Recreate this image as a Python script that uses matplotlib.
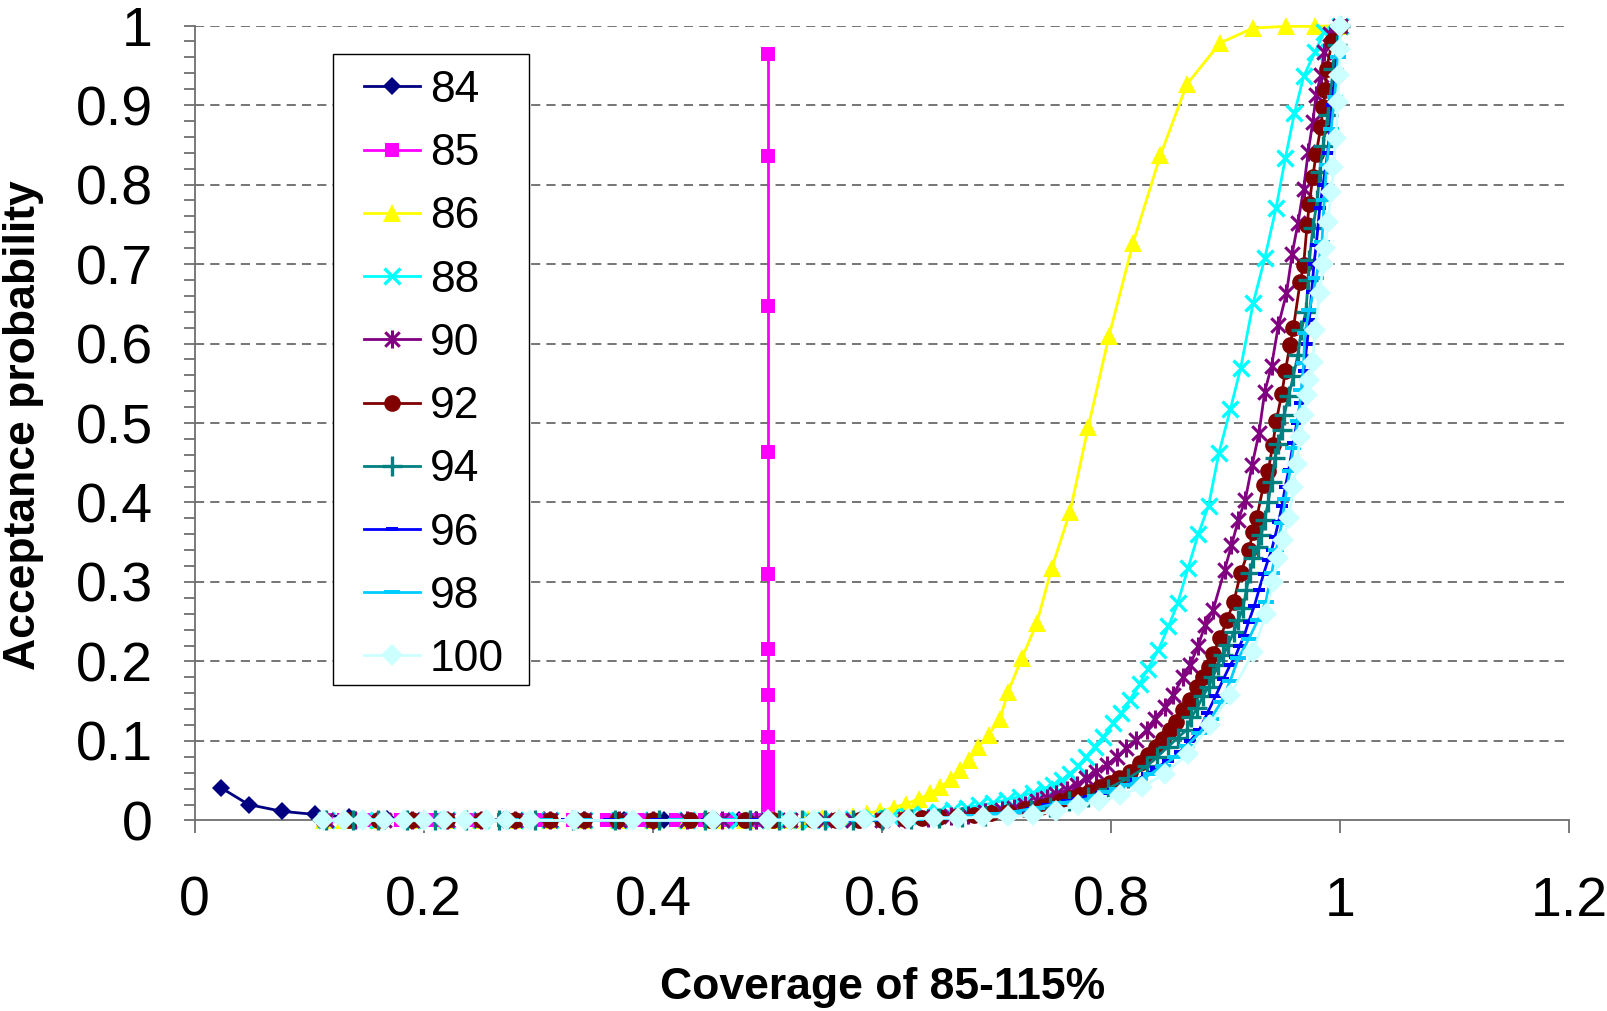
import matplotlib
matplotlib.use("Agg")
import matplotlib.pyplot as plt
from matplotlib.path import Path
from matplotlib.patches import Rectangle
from matplotlib.ticker import MultipleLocator, FuncFormatter

plt.rcParams['font.family'] = ['Liberation Sans', 'DejaVu Sans']

# ---------------- data (coverage, acceptance probability) ----------------
labels = ["84", "85", "86", "88", "90", "92", "94", "96", "98", "100"]

s84 = [(0.023, 0.041), (0.047, 0.020), (0.076, 0.0115), (0.105, 0.0075), (0.135, 0.004),
       (0.168, 0.002), (0.200, 0.0015), (0.235, 0.001), (0.270, 0.0005), (0.305, 0.0),
       (0.340, 0.0), (0.375, 0.0), (0.410, 0.0), (0.445, 0.0), (0.475, 0.0), (0.490, 0.0)]

s85 = [(0.5, 0.964), (0.5, 0.836), (0.5, 0.647), (0.5, 0.463), (0.5, 0.310), (0.5, 0.216),
       (0.5, 0.158), (0.5, 0.105), (0.5, 0.080), (0.5, 0.062), (0.5, 0.048), (0.5, 0.037),
       (0.5, 0.028), (0.5, 0.021), (0.5, 0.015), (0.5, 0.011), (0.5, 0.008), (0.5, 0.005),
       (0.5, 0.003), (0.5, 0.002), (0.5, 0.001), (0.5, 0.0), (0.497, 0.0), (0.49, 0.0),
       (0.48, 0.0), (0.465, 0.0), (0.445, 0.0), (0.42, 0.0), (0.39, 0.0), (0.36, 0.0),
       (0.33, 0.0), (0.30, 0.0), (0.27, 0.0), (0.24, 0.0), (0.21, 0.0), (0.18, 0.0),
       (0.15, 0.0), (0.13, 0.0), (0.115, 0.0)]

s86 = [(1.0, 1.0), (0.978, 0.999), (0.953, 0.999), (0.924, 0.997), (0.895, 0.978),
       (0.866, 0.926), (0.843, 0.837), (0.819, 0.726), (0.798, 0.609), (0.780, 0.495),
       (0.764, 0.388), (0.748, 0.317), (0.735, 0.248), (0.722, 0.204), (0.710, 0.162),
       (0.703, 0.128), (0.693, 0.108), (0.684, 0.092), (0.676, 0.076), (0.668, 0.063),
       (0.660, 0.052), (0.651, 0.042), (0.642, 0.034), (0.632, 0.027), (0.621, 0.021),
       (0.610, 0.016), (0.598, 0.012), (0.587, 0.009), (0.575, 0.006), (0.562, 0.004),
       (0.548, 0.003), (0.535, 0.002), (0.520, 0.001), (0.505, 0.0005), (0.480, 0.0),
       (0.455, 0.0), (0.430, 0.0), (0.400, 0.0), (0.370, 0.0), (0.340, 0.0), (0.310, 0.0),
       (0.280, 0.0), (0.250, 0.0), (0.220, 0.0), (0.190, 0.0), (0.160, 0.0), (0.130, 0.0),
       (0.113, 0.0)]

s88 = [(1.0, 1.0), (0.986, 0.992), (0.978, 0.967), (0.968, 0.936), (0.960, 0.890),
       (0.952, 0.833), (0.944, 0.771), (0.934, 0.707), (0.924, 0.651), (0.913, 0.569),
       (0.904, 0.517), (0.894, 0.462), (0.885, 0.396), (0.876, 0.360), (0.867, 0.317),
       (0.858, 0.273), (0.850, 0.244), (0.841, 0.214), (0.832, 0.191), (0.825, 0.172),
       (0.816, 0.151), (0.809, 0.135), (0.802, 0.122), (0.793, 0.105), (0.786, 0.093),
       (0.778, 0.080), (0.771, 0.068), (0.764, 0.059), (0.757, 0.051), (0.749, 0.045),
       (0.742, 0.040), (0.732, 0.035), (0.720, 0.030), (0.709, 0.026), (0.697, 0.022),
       (0.685, 0.019), (0.674, 0.016), (0.662, 0.013), (0.650, 0.010), (0.637, 0.008),
       (0.623, 0.006), (0.608, 0.004), (0.592, 0.003), (0.575, 0.002), (0.557, 0.001),
       (0.538, 0.0005), (0.518, 0.0), (0.490, 0.0), (0.475, 0.0), (0.460, 0.0),
       (0.430, 0.0), (0.400, 0.0), (0.370, 0.0), (0.340, 0.0), (0.310, 0.0), (0.280, 0.0),
       (0.250, 0.0), (0.220, 0.0), (0.190, 0.0), (0.160, 0.0), (0.135, 0.0), (0.115, 0.0)]

s90 = [(1.0, 1.0), (0.991, 0.99), (0.986, 0.967), (0.983, 0.938), (0.979, 0.913),
       (0.976, 0.879), (0.972, 0.841), (0.968, 0.795), (0.963, 0.751), (0.958, 0.713),
       (0.953, 0.663), (0.946, 0.623), (0.940, 0.572), (0.934, 0.539), (0.929, 0.487),
       (0.923, 0.447), (0.917, 0.403), (0.911, 0.378), (0.905, 0.346), (0.899, 0.315),
       (0.889, 0.265), (0.882, 0.246), (0.876, 0.220), (0.869, 0.196), (0.863, 0.181),
       (0.854, 0.158), (0.847, 0.143), (0.838, 0.128), (0.831, 0.114), (0.822, 0.101),
       (0.813, 0.091), (0.805, 0.080), (0.796, 0.070), (0.787, 0.061), (0.778, 0.053),
       (0.770, 0.045), (0.761, 0.038), (0.752, 0.033), (0.744, 0.028), (0.735, 0.024),
       (0.725, 0.020), (0.715, 0.016), (0.705, 0.013), (0.690, 0.010), (0.675, 0.007),
       (0.660, 0.005), (0.640, 0.003), (0.620, 0.002), (0.600, 0.001), (0.575, 0.0005),
       (0.550, 0.0), (0.520, 0.0), (0.490, 0.0), (0.460, 0.0), (0.430, 0.0), (0.400, 0.0),
       (0.370, 0.0), (0.340, 0.0), (0.310, 0.0), (0.280, 0.0), (0.250, 0.0), (0.220, 0.0),
       (0.190, 0.0), (0.165, 0.0), (0.140, 0.0), (0.115, 0.0)]

s92 = [(1.0, 1.0), (0.993, 0.98), (0.988, 0.946), (0.987, 0.919), (0.985, 0.898),
       (0.983, 0.873), (0.979, 0.839), (0.976, 0.810), (0.973, 0.776), (0.971, 0.749),
       (0.968, 0.699), (0.965, 0.678), (0.959, 0.619), (0.956, 0.598), (0.952, 0.565),
       (0.949, 0.537), (0.944, 0.502), (0.941, 0.472), (0.937, 0.439), (0.933, 0.422),
       (0.927, 0.380), (0.924, 0.363), (0.920, 0.340), (0.913, 0.311), (0.907, 0.275),
       (0.901, 0.252), (0.895, 0.229), (0.889, 0.210), (0.885, 0.193), (0.880, 0.181),
       (0.875, 0.168), (0.869, 0.151), (0.863, 0.139), (0.857, 0.124), (0.851, 0.114),
       (0.845, 0.103), (0.839, 0.093), (0.832, 0.082), (0.825, 0.072), (0.816, 0.061),
       (0.807, 0.053), (0.799, 0.047), (0.790, 0.042), (0.781, 0.036), (0.773, 0.032),
       (0.764, 0.028), (0.755, 0.024), (0.746, 0.019), (0.739, 0.017), (0.725, 0.014),
       (0.710, 0.011), (0.695, 0.009), (0.680, 0.007), (0.665, 0.005), (0.650, 0.004),
       (0.635, 0.003), (0.620, 0.002), (0.600, 0.001), (0.580, 0.0005), (0.560, 0.0),
       (0.540, 0.0), (0.520, 0.0), (0.505, 0.0), (0.480, 0.0), (0.450, 0.0), (0.432, 0.0),
       (0.400, 0.0), (0.369, 0.0), (0.340, 0.0), (0.310, 0.0), (0.280, 0.0), (0.250, 0.0),
       (0.220, 0.0), (0.190, 0.0), (0.160, 0.0), (0.135, 0.0), (0.112, 0.0)]

s94 = [(1.0, 1.0), (0.997, 0.975), (0.994, 0.946), (0.989, 0.888), (0.985, 0.848),
       (0.982, 0.816), (0.980, 0.781), (0.976, 0.745), (0.973, 0.705), (0.972, 0.680),
       (0.970, 0.640), (0.966, 0.617), (0.963, 0.586), (0.959, 0.559), (0.955, 0.534),
       (0.951, 0.510), (0.949, 0.491), (0.946, 0.474), (0.943, 0.456), (0.940, 0.426),
       (0.937, 0.400), (0.934, 0.378), (0.931, 0.359), (0.928, 0.344), (0.924, 0.330),
       (0.921, 0.311), (0.918, 0.290), (0.915, 0.267), (0.911, 0.252), (0.907, 0.237),
       (0.902, 0.221), (0.898, 0.208), (0.893, 0.196), (0.889, 0.181), (0.885, 0.168),
       (0.880, 0.156), (0.875, 0.141), (0.870, 0.130), (0.866, 0.114), (0.858, 0.104),
       (0.850, 0.093), (0.840, 0.080), (0.831, 0.068), (0.815, 0.053), (0.797, 0.040),
       (0.780, 0.030), (0.763, 0.024), (0.747, 0.017), (0.730, 0.013), (0.710, 0.009),
       (0.690, 0.006), (0.670, 0.004), (0.650, 0.003), (0.625, 0.002), (0.600, 0.001),
       (0.575, 0.0005), (0.550, 0.0), (0.530, 0.0), (0.510, 0.0), (0.485, 0.0),
       (0.445, 0.0), (0.405, 0.0), (0.367, 0.0), (0.330, 0.0), (0.297, 0.0), (0.266, 0.0),
       (0.237, 0.0), (0.210, 0.0), (0.185, 0.0), (0.160, 0.0), (0.138, 0.0), (0.115, 0.0)]

s96 = [(1.0, 1.0), (0.997, 0.96), (0.993, 0.90), (0.989, 0.84), (0.985, 0.80),
       (0.982, 0.770), (0.979, 0.724), (0.977, 0.700), (0.975, 0.665), (0.973, 0.630),
       (0.971, 0.600), (0.968, 0.565), (0.965, 0.525), (0.962, 0.500), (0.959, 0.475),
       (0.955, 0.441), (0.952, 0.420), (0.949, 0.395), (0.946, 0.375), (0.943, 0.357),
       (0.940, 0.340), (0.937, 0.328), (0.933, 0.310), (0.929, 0.290), (0.925, 0.270),
       (0.920, 0.250), (0.916, 0.232), (0.912, 0.219), (0.908, 0.205), (0.904, 0.196),
       (0.898, 0.178), (0.891, 0.156), (0.884, 0.135), (0.877, 0.114), (0.869, 0.100),
       (0.860, 0.086), (0.850, 0.075), (0.839, 0.066), (0.831, 0.058), (0.822, 0.051),
       (0.812, 0.044), (0.802, 0.038), (0.791, 0.034), (0.781, 0.030), (0.771, 0.027),
       (0.761, 0.024), (0.745, 0.019), (0.730, 0.014), (0.710, 0.010), (0.690, 0.007),
       (0.670, 0.005), (0.650, 0.003), (0.625, 0.002), (0.600, 0.001), (0.570, 0.0005),
       (0.540, 0.0), (0.515, 0.0), (0.490, 0.0), (0.447, 0.0), (0.403, 0.0), (0.362, 0.0),
       (0.325, 0.0), (0.290, 0.0), (0.260, 0.0), (0.232, 0.0), (0.205, 0.0), (0.180, 0.0),
       (0.157, 0.0), (0.135, 0.0), (0.114, 0.0)]

s98 = [(1.0, 1.0), (0.998, 0.96), (0.995, 0.91), (0.992, 0.87), (0.988, 0.825),
       (0.986, 0.780), (0.984, 0.728), (0.979, 0.682), (0.973, 0.642), (0.969, 0.613),
       (0.968, 0.575), (0.966, 0.542), (0.963, 0.502), (0.959, 0.468), (0.956, 0.439),
       (0.952, 0.405), (0.949, 0.374), (0.944, 0.340), (0.940, 0.311), (0.935, 0.275),
       (0.928, 0.252), (0.920, 0.228), (0.911, 0.204), (0.904, 0.176), (0.896, 0.149),
       (0.887, 0.128), (0.877, 0.110), (0.866, 0.094), (0.856, 0.080), (0.845, 0.069),
       (0.835, 0.059), (0.825, 0.052), (0.815, 0.045), (0.805, 0.040), (0.795, 0.036),
       (0.786, 0.031), (0.776, 0.026), (0.755, 0.022), (0.735, 0.016), (0.715, 0.011),
       (0.695, 0.008), (0.675, 0.005), (0.655, 0.003), (0.630, 0.002), (0.605, 0.001),
       (0.580, 0.0005), (0.555, 0.0), (0.530, 0.0), (0.510, 0.0), (0.465, 0.0),
       (0.420, 0.0), (0.378, 0.0), (0.340, 0.0), (0.306, 0.0), (0.276, 0.0), (0.248, 0.0),
       (0.222, 0.0), (0.198, 0.0), (0.175, 0.0), (0.153, 0.0), (0.133, 0.0), (0.113, 0.0)]

s100 = [(1.0, 1.0), (1.0, 0.97), (0.999, 0.938), (0.998, 0.904), (0.996, 0.858),
        (0.994, 0.822), (0.992, 0.790), (0.989, 0.753), (0.987, 0.720), (0.985, 0.700),
        (0.982, 0.663), (0.978, 0.617), (0.976, 0.577), (0.973, 0.554), (0.971, 0.535),
        (0.968, 0.510), (0.965, 0.483), (0.962, 0.449), (0.959, 0.420), (0.955, 0.380),
        (0.950, 0.353), (0.946, 0.330), (0.941, 0.300), (0.935, 0.260), (0.924, 0.212),
        (0.904, 0.158), (0.886, 0.120), (0.867, 0.084), (0.847, 0.059), (0.827, 0.042),
        (0.808, 0.032), (0.789, 0.024), (0.771, 0.019), (0.752, 0.012), (0.732, 0.007),
        (0.710, 0.005), (0.688, 0.004), (0.666, 0.003), (0.645, 0.003), (0.623, 0.002),
        (0.604, 0.002), (0.584, 0.0015), (0.562, 0.001), (0.541, 0.001), (0.520, 0.0005),
        (0.500, 0.0), (0.452, 0.0), (0.383, 0.0), (0.331, 0.0), (0.293, 0.0), (0.272, 0.0),
        (0.254, 0.0), (0.236, 0.0), (0.218, 0.0), (0.200, 0.0), (0.183, 0.0), (0.165, 0.0),
        (0.147, 0.0), (0.130, 0.0), (0.112, 0.0)]

series = [s84, s85, s86, s88, s90, s92, s94, s96, s98, s100]
x_ticks = [0, 0.2, 0.4, 0.6, 0.8, 1.0, 1.2]
y_ticks = [0, 0.1, 0.2, 0.3, 0.4, 0.5, 0.6, 0.7, 0.8, 0.9, 1.0]

# ---------------- styles ----------------
star = Path([(-1, -1), (1, 1), (-1, 1), (1, -1), (0, -1.25), (0, 1.25)],
            [Path.MOVETO, Path.LINETO, Path.MOVETO, Path.LINETO, Path.MOVETO, Path.LINETO])
dash_s = Path([(-1, -0.4), (1, -0.4), (1, 0.4), (-1, 0.4), (-1, -0.4)],
              [Path.MOVETO, Path.LINETO, Path.LINETO, Path.LINETO, Path.CLOSEPOLY])
dash_l = Path([(-1, -0.3), (1, -0.3), (1, 0.3), (-1, 0.3), (-1, -0.3)],
              [Path.MOVETO, Path.LINETO, Path.LINETO, Path.LINETO, Path.CLOSEPOLY])

styles = [
    dict(color="#000080", marker="D", ms=9.5),
    dict(color="#FF00FF", marker="s", ms=10.5),
    dict(color="#FFFF00", marker="^", ms=13.5),
    dict(color="#00FFFF", marker="x", ms=12, mew=2.4),
    dict(color="#800080", marker=star, ms=13, mew=2.2, mfc="none"),
    dict(color="#800000", marker="o", ms=12),
    dict(color="#008080", marker="+", ms=14, mew=2.4),
    dict(color="#0000FF", marker=dash_s, ms=8),
    dict(color="#00CCFF", marker=dash_l, ms=11),
    dict(color="#CCFFFF", marker="D", ms=11),
]

fig = plt.figure(figsize=(16.08, 10.11), dpi=100)
ax = fig.add_axes([0.1211, 0.1885, 0.8549, 0.7862])

handles = []
for lab, s, st in zip(labels, series, styles):
    xs = [p[0] for p in s]
    ys = [p[1] for p in s]
    kw = dict(st)
    mfc = kw.pop("mfc", kw["color"])
    mew = kw.pop("mew", 0.0)
    h, = ax.plot(xs, ys, color=kw["color"], lw=2.0, marker=kw["marker"], ms=kw["ms"],
                 mfc=mfc, mec=kw["color"], mew=mew, label=lab, clip_on=False, zorder=3)
    handles.append(h)

ax.set_xlim(0, 1.2)
ax.set_ylim(0, 1.0)
ax.set_xticks(x_ticks)
ax.set_yticks(y_ticks)
ax.yaxis.set_minor_locator(MultipleLocator(0.02))
fmt = FuncFormatter(lambda v, p: "%g" % round(v, 2))
ax.xaxis.set_major_formatter(fmt)
ax.yaxis.set_major_formatter(fmt)

for v in y_ticks[1:]:
    ax.axhline(v, color="#505050", lw=1.1, ls=(0, (6, 4)), zorder=1)

for sp in ["top", "right"]:
    ax.spines[sp].set_visible(False)
for sp in ["left", "bottom"]:
    ax.spines[sp].set_color("#707070")
    ax.spines[sp].set_linewidth(1.3)
    ax.spines[sp].set_zorder(2)

ax.tick_params(axis="both", which="both", direction="out", color="#707070", width=1.3)
ax.tick_params(axis="y", which="major", length=8, pad=22, labelsize=40)
ax.tick_params(axis="y", which="minor", length=8)
ax.tick_params(axis="x", which="major", length=9, pad=31, labelsize=40)

ax.text(0.5, -0.2096, "Coverage of 85-115%", transform=ax.transAxes, ha="center",
        va="center", fontsize=32, fontweight="bold")
ax.text(-0.1245, 0.4975, "Acceptance probability", transform=ax.transAxes, ha="center",
        va="center", rotation=90, fontsize=32, fontweight="bold")

# legend box drawn as a plain rectangle, entries placed inside it
fig.add_artist(Rectangle((0.2071, 0.3225), 0.1219, 0.6241, transform=fig.transFigure,
                         facecolor="white", edgecolor="black", lw=1.0, zorder=4))
leg = fig.legend(handles=handles, labels=labels, loc="upper left",
                 bbox_to_anchor=(0.2264, 0.9308), borderaxespad=0, borderpad=0,
                 fontsize=32, numpoints=1, handlelength=1.26, handletextpad=0.22,
                 labelspacing=0.5, frameon=False)
leg.set_zorder(5)

fig.savefig("out.png", dpi=100)
